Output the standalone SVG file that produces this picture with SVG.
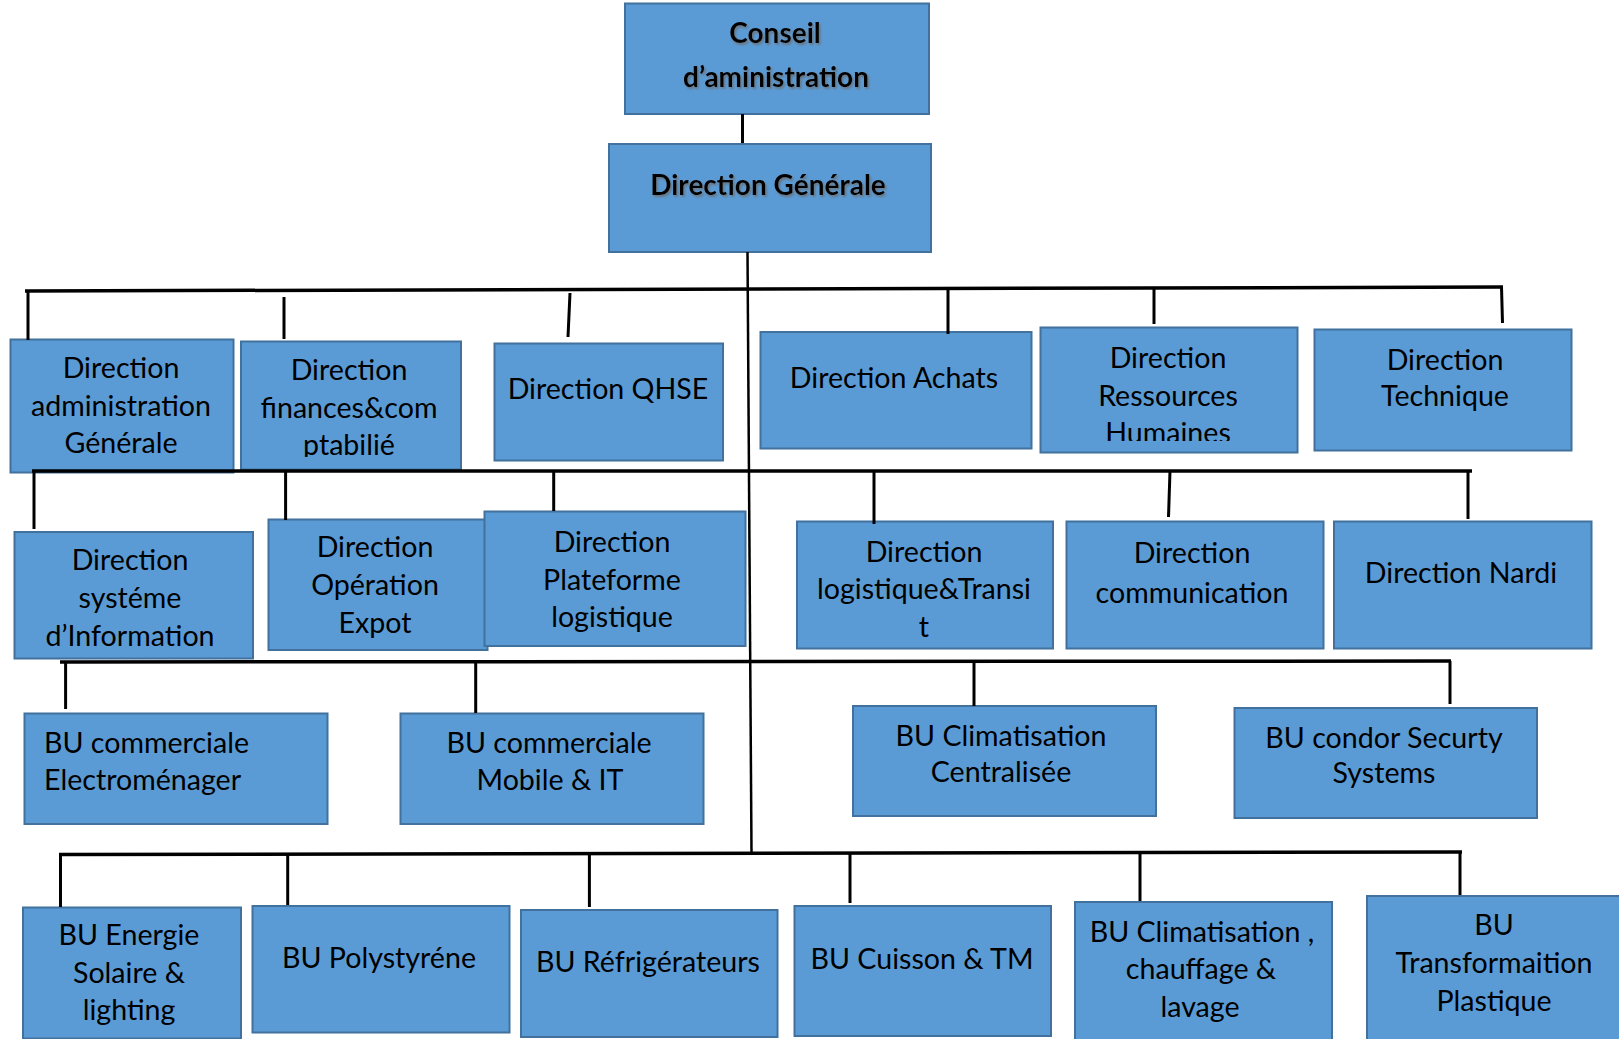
<svg xmlns="http://www.w3.org/2000/svg" width="1619" height="1039" viewBox="0 0 1619 1039">
<style>
.box{fill:#5B9BD5;stroke:#41719C;stroke-width:2}
.t{font-family:Lato,"Liberation Sans",sans-serif;font-size:28.6px;fill:#000;text-anchor:middle}
.tl{text-anchor:start}
.b{font-weight:bold;font-size:28px}
.bus{stroke:#000;stroke-width:3.5;fill:none}
.drop{stroke:#000;stroke-width:3;fill:none}
.main{stroke:#000;stroke-width:2.5;fill:none}
</style>
<defs>
<filter id="sh" x="-10%" y="-20%" width="130%" height="150%">
<feDropShadow dx="1.5" dy="2" stdDeviation="1.2" flood-color="#6a6a6a" flood-opacity="0.8"/>
</filter>
<clipPath id="clipFin"><rect x="241" y="341" width="220" height="116"/></clipPath>
<clipPath id="clipRH"><rect x="1040" y="327" width="257" height="114"/></clipPath>
</defs>

<g id="conseil"><rect class="box" x="625" y="3.5" width="304" height="110.5"/>
<text class="t b" filter="url(#sh)" x="775" y="43">Conseil</text>
<text class="t b" filter="url(#sh)" x="776" y="87">d’aministration</text></g>

<g id="direction-generale"><rect class="box" x="609" y="144" width="322" height="108"/>
<text class="t b" filter="url(#sh)" x="768" y="195">Direction Générale</text></g>

<g id="dir-admin"><rect class="box" x="10.5" y="339.5" width="223" height="133"/>
<text class="t" x="121" y="378">Direction</text>
<text class="t" x="121" y="416">administration</text>
<text class="t" x="121" y="453">Générale</text></g>

<g id="dir-finances"><rect class="box" x="241" y="341.5" width="220" height="128"/>
<g clip-path="url(#clipFin)">
<text class="t" x="349" y="380">Direction</text>
<text class="t" x="349" y="418">finances&amp;com</text>
<text class="t" x="349" y="455">ptabilié</text></g></g>

<g id="dir-qhse"><rect class="box" x="494.5" y="343.5" width="228.5" height="117"/>
<text class="t" x="608" y="399">Direction QHSE</text></g>

<g id="dir-achats"><rect class="box" x="760.5" y="332" width="271" height="116.5"/>
<text class="t" x="894" y="388">Direction Achats</text></g>

<g id="dir-rh"><rect class="box" x="1040.5" y="327.5" width="257" height="125"/>
<g clip-path="url(#clipRH)">
<text class="t" x="1168" y="368">Direction</text>
<text class="t" x="1168" y="406">Ressources</text>
<text class="t" x="1168" y="443">Humaines</text></g></g>

<g id="dir-technique"><rect class="box" x="1314.5" y="329.5" width="257" height="121"/>
<text class="t" x="1445" y="370">Direction</text>
<text class="t" x="1445" y="406">Technique</text></g>

<g id="dir-si"><rect class="box" x="14.5" y="532" width="238.5" height="126.5"/>
<text class="t" x="130" y="570">Direction</text>
<text class="t" x="130" y="608">systéme</text>
<text class="t" x="130" y="646">d’Information</text></g>

<g id="dir-operation"><rect class="box" x="268.5" y="519.5" width="219" height="130.5"/>
<text class="t" x="375" y="557">Direction</text>
<text class="t" x="375" y="595">Opération</text>
<text class="t" x="375" y="633">Expot</text></g>

<g id="dir-plateforme"><rect class="box" x="484.5" y="511.5" width="261" height="134.5"/>
<text class="t" x="612" y="552">Direction</text>
<text class="t" x="612" y="590">Plateforme</text>
<text class="t" x="612" y="627">logistique</text></g>

<g id="dir-logistique"><rect class="box" x="797" y="521.5" width="256" height="127"/>
<text class="t" x="924" y="562">Direction</text>
<text class="t" x="924" y="599">logistique&amp;Transi</text>
<text class="t" x="924" y="637">t</text></g>

<g id="dir-communication"><rect class="box" x="1066.5" y="521.5" width="257" height="127"/>
<text class="t" x="1192" y="563">Direction</text>
<text class="t" x="1192" y="603">communication</text></g>

<g id="dir-nardi"><rect class="box" x="1334" y="521.5" width="257.5" height="127"/>
<text class="t" x="1461" y="583">Direction Nardi</text></g>

<g id="bu-electromenager"><rect class="box" x="24.5" y="713.5" width="303" height="110.5"/>
<text class="t tl" x="44" y="753">BU commerciale</text>
<text class="t tl" x="44" y="790">Electroménager</text></g>

<g id="bu-mobile"><rect class="box" x="400.5" y="713.5" width="303" height="110.5"/>
<text class="t" x="549" y="753">BU commerciale</text>
<text class="t" x="550" y="790">Mobile &amp; IT</text></g>

<g id="bu-clim-centralisee"><rect class="box" x="853" y="706" width="303" height="110"/>
<text class="t" x="1001" y="746">BU Climatisation</text>
<text class="t" x="1001" y="782">Centralisée</text></g>

<g id="bu-condor"><rect class="box" x="1234.5" y="708" width="302.5" height="110"/>
<text class="t" x="1384" y="748">BU condor Securty</text>
<text class="t" x="1384" y="783">Systems</text></g>

<g id="bu-energie"><rect class="box" x="23" y="907.5" width="218" height="131"/>
<text class="t" x="129" y="945">BU Energie</text>
<text class="t" x="129" y="983">Solaire &amp;</text>
<text class="t" x="129" y="1020">lighting</text></g>

<g id="bu-polystyrene"><rect class="box" x="252.5" y="906" width="257" height="126.5"/>
<text class="t" x="379" y="968">BU Polystyréne</text></g>

<g id="bu-refrigerateurs"><rect class="box" x="521" y="910" width="256.5" height="127"/>
<text class="t" x="648" y="972">BU Réfrigérateurs</text></g>

<g id="bu-cuisson"><rect class="box" x="794.5" y="906" width="256.5" height="130"/>
<text class="t" x="922" y="969">BU Cuisson &amp; TM</text></g>

<g id="bu-clim-chauffage"><rect class="box" x="1075" y="902" width="257" height="145"/>
<text class="t" x="1202" y="942">BU Climatisation ,</text>
<text class="t" x="1201" y="979">chauffage &amp;</text>
<text class="t" x="1200" y="1017">lavage</text></g>

<g id="bu-transformation"><rect class="box" x="1367" y="896" width="262" height="155"/>
<text class="t" x="1494" y="935">BU</text>
<text class="t" x="1494" y="973">Transformaition</text>
<text class="t" x="1494" y="1011">Plastique</text></g>

<g id="connectors">
<line class="drop" x1="742.5" y1="114" x2="742.5" y2="143"/>
<line class="main" x1="747.5" y1="252" x2="751.5" y2="853"/>
<line class="bus" x1="25" y1="291" x2="1503" y2="287"/>
<line class="drop" x1="28" y1="290" x2="28" y2="340"/>
<line class="drop" x1="284" y1="297" x2="284" y2="339"/>
<line class="drop" x1="570" y1="293" x2="568" y2="337"/>
<line class="drop" x1="948" y1="287" x2="948" y2="334"/>
<line class="drop" x1="1154" y1="287" x2="1154" y2="324"/>
<line class="drop" x1="1501.5" y1="287" x2="1502.5" y2="323"/>
<line class="bus" x1="32" y1="471" x2="1472" y2="471"/>
<line class="drop" x1="34" y1="471" x2="34" y2="529"/>
<line class="drop" x1="285.6" y1="471" x2="285.6" y2="520"/>
<line class="drop" x1="553.7" y1="471" x2="553.7" y2="511"/>
<line class="drop" x1="874" y1="471" x2="874" y2="524"/>
<line class="drop" x1="1170" y1="471" x2="1168.5" y2="517"/>
<line class="drop" x1="1468" y1="471" x2="1468" y2="519"/>
<line class="bus" x1="60" y1="662" x2="1451" y2="661"/>
<line class="drop" x1="65.6" y1="662" x2="65.6" y2="709"/>
<line class="drop" x1="475.7" y1="662" x2="475.7" y2="713"/>
<line class="drop" x1="974" y1="662" x2="974" y2="706"/>
<line class="drop" x1="1450" y1="661" x2="1450" y2="704"/>
<line class="bus" x1="59" y1="854.5" x2="1462" y2="852"/>
<line class="drop" x1="60.5" y1="854" x2="60.5" y2="907"/>
<line class="drop" x1="287.7" y1="854" x2="287.7" y2="905"/>
<line class="drop" x1="589.4" y1="854" x2="589.4" y2="907"/>
<line class="drop" x1="850" y1="853" x2="850" y2="903"/>
<line class="drop" x1="1140" y1="853" x2="1140" y2="901"/>
<line class="drop" x1="1460" y1="852" x2="1460" y2="895"/>
</g>
</svg>
